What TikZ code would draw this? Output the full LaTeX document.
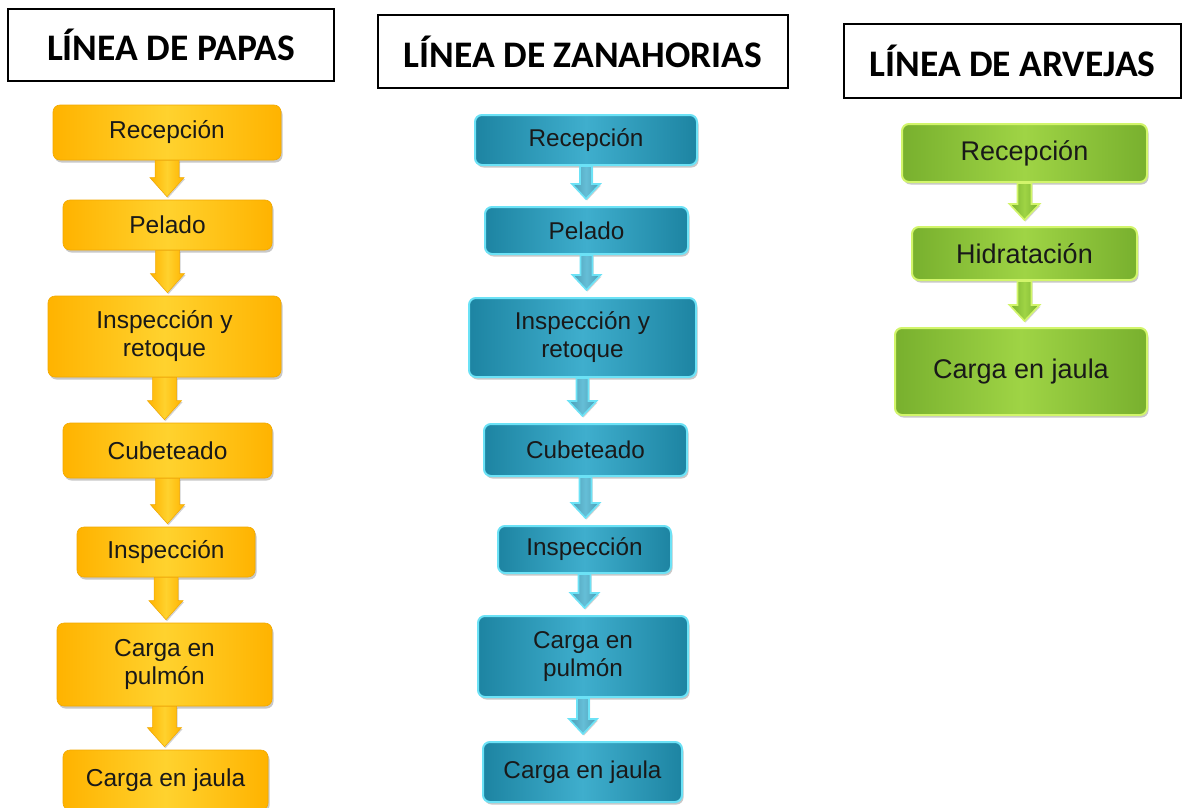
\documentclass[tikz,border=0pt]{standalone}
\usepackage{fontspec}
\setmainfont{Liberation Sans}
\newfontfamily\titlefont{Carlito}
\usetikzlibrary{shadows,calc}
\definecolor{oC}{HTML}{FFD22E}
\definecolor{oE}{HTML}{FFB300}
\definecolor{oB}{HTML}{F2A900}
\definecolor{tC}{HTML}{3FAECD}
\definecolor{tE}{HTML}{1D84A2}
\definecolor{tB}{HTML}{6CE2F6}
\definecolor{gC}{HTML}{9FD445}
\definecolor{gE}{HTML}{78B02E}
\definecolor{gB}{HTML}{D2F56B}
\newcommand\flowarrow[7]{%
  \path[#1] let \p1=(#2.south), \p2=(#3.north) in
    (\x1-#4pt,\y1) -- (\x1+#4pt,\y1) -- (\x1+#4pt,\y2+#7pt) -- (\x1+#5pt,\y2+#7pt)
    -- (\x1,\y2+#6pt) -- (\x1-#5pt,\y2+#7pt) -- (\x1-#4pt,\y2+#7pt) -- cycle;}
\begin{document}
\begin{tikzpicture}[x=1pt,y=-1pt,
  titlebox/.style={draw=black, line width=1.3pt, inner sep=0pt,
    font=\titlefont\bfseries\fontsize{37.5}{40}\selectfont},
  stepbox/.style={rounded corners=7pt, align=center, inner sep=0pt,
    text=black!90,
    drop shadow={shadow xshift=1.5pt, shadow yshift=-2.5pt, opacity=0.3, fill=black!70}},
  obox/.style={stepbox, left color=oE, right color=oE, middle color=oC,
    draw=oB, line width=0.6pt, font=\fontsize{24.5}{28}\selectfont},
  tbox/.style={stepbox, left color=tE, right color=tE, middle color=tC,
    draw=tB, line width=2pt, font=\fontsize{24.3}{28}\selectfont},
  gbox/.style={stepbox, left color=gE, right color=gE, middle color=gC,
    draw=gB, line width=2pt, font=\fontsize{27}{31}\selectfont},
  oarrow/.style={left color=oE, right color=oE, middle color=oC, draw=oB, line width=0.5pt,
    drop shadow={shadow xshift=1pt, shadow yshift=-1.5pt, opacity=0.25, fill=black!70}},
  tarrow/.style={left color=tE!80, right color=tE!80, middle color=tC!80!white, draw=tB, line width=1.6pt,
    drop shadow={shadow xshift=1pt, shadow yshift=-1.5pt, opacity=0.25, fill=black!70}},
  garrow/.style={left color=gE, right color=gE, middle color=gC, draw=gB, line width=1.6pt,
    drop shadow={shadow xshift=1pt, shadow yshift=-1.5pt, opacity=0.25, fill=black!70}}
]
\useasboundingbox (0,0) rectangle (1188,808);
\fill[white] (0,0) rectangle (1188,808);

% titles
\node[titlebox, minimum width=326pt, minimum height=72pt] (t1) at (171,45) {LÍNEA DE PAPAS};
\node[titlebox, minimum width=410pt, minimum height=73pt] (t2) at (583,51.5) {LÍNEA DE ZANAHORIAS};
\node[titlebox, minimum width=337pt, minimum height=74pt] (t3) at (1012.5,61) {LÍNEA DE ARVEJAS};

% papas
\node[obox, minimum width=228pt, minimum height=55pt] (p1) at (167,132.5) {Recepción};
\node[obox, minimum width=209pt, minimum height=50pt] (p2) at (167.5,225) {Pelado};
\node[obox, minimum width=233pt, minimum height=81pt] (p3) at (164.5,336.5) {Inspección y\\retoque};
\node[obox, minimum width=209pt, minimum height=55pt] (p4) at (167.5,450.5) {Cubeteado};
\node[obox, minimum width=178pt, minimum height=50pt] (p5) at (166,552) {Inspección};
\node[obox, minimum width=215pt, minimum height=83pt] (p6) at (164.5,664.5) {Carga en\\pulmón};
\node[obox, minimum width=205pt, minimum height=60pt] (p7) at (165.5,780) {Carga en jaula};

% zanahorias
\node[tbox, minimum width=222pt, minimum height=50pt] (z1) at (586,140) {Recepción};
\node[tbox, minimum width=203pt, minimum height=47pt] (z2) at (586.5,230.5) {Pelado};
\node[tbox, minimum width=227pt, minimum height=79pt] (z3) at (582.5,337.5) {Inspección y\\retoque};
\node[tbox, minimum width=203pt, minimum height=52pt] (z4) at (585.5,450) {Cubeteado};
\node[tbox, minimum width=173pt, minimum height=47pt] (z5) at (584.5,549.5) {Inspección};
\node[tbox, minimum width=210pt, minimum height=81pt] (z6) at (583,656.5) {Carga en\\pulmón};
\node[tbox, minimum width=199pt, minimum height=60pt] (z7) at (582.5,772) {Carga en jaula};

% arvejas
\node[gbox, minimum width=245pt, minimum height=58pt] (g1) at (1024.5,153) {Recepción};
\node[gbox, minimum width=225pt, minimum height=53pt] (g2) at (1024.5,253.5) {Hidratación};
\node[gbox, minimum width=252pt, minimum height=87pt] (g3) at (1021,371.5) {Carga en jaula};

% arrows
\flowarrow{oarrow}{p1}{p2}{12}{17}{3}{22}
\flowarrow{oarrow}{p2}{p3}{12}{17}{3}{22}
\flowarrow{oarrow}{p3}{p4}{12}{17}{3}{22}
\flowarrow{oarrow}{p4}{p5}{12}{17}{3}{22}
\flowarrow{oarrow}{p5}{p6}{12}{17}{3}{22}
\flowarrow{oarrow}{p6}{p7}{12}{17}{3}{22}

\flowarrow{tarrow}{z1}{z2}{6}{14}{7}{22}
\flowarrow{tarrow}{z2}{z3}{6}{14}{7}{22}
\flowarrow{tarrow}{z3}{z4}{6}{14}{7}{22}
\flowarrow{tarrow}{z4}{z5}{6}{14}{7}{22}
\flowarrow{tarrow}{z5}{z6}{6}{14}{7}{22}
\flowarrow{tarrow}{z6}{z7}{6}{14}{7}{22}

\flowarrow{garrow}{g1}{g2}{7}{15}{6}{22}
\flowarrow{garrow}{g2}{g3}{7}{15}{6}{22}
\end{tikzpicture}
\end{document}
